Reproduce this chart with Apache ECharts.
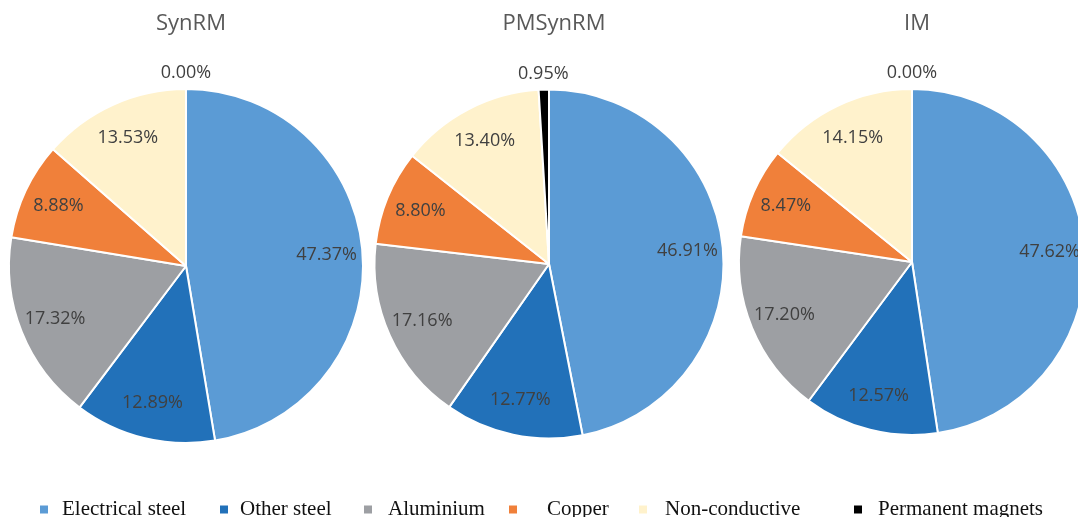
<!DOCTYPE html>
<html>
<head>
<meta charset="utf-8">
<script src="https://cdn.jsdelivr.net/npm/echarts@6/dist/echarts.min.js"></script>
<style>
html,body{margin:0;padding:0;background:#fff;}
#chart{width:1078px;height:517px;}
</style>
</head>
<body>
<div id="chart"></div>
<script>
const categories = ['Electrical steel','Other steel','Aluminium','Copper','Non-conductive','Permanent magnets'];
const motors = ['SynRM','PMSynRM','IM'];
const synrmValues = [47.37, 12.89, 17.32, 8.88, 13.53, 0.00];
const pmsynrmValues = [46.91, 12.77, 17.16, 8.80, 13.40, 0.95];
const imValues = [47.62, 12.57, 17.20, 8.47, 14.15, 0.00];
const allValues = [synrmValues, pmsynrmValues, imValues];

const colors = ['#5B9BD5','#2271B9','#9D9FA3','#F0803A','#FFF2CC','#000000'];
const pieLayout = [
  {cx:186, cy:266, r:177},
  {cx:549, cy:264, r:174.5},
  {cx:912, cy:262, r:173}
];
const legendLeft = [33, 213, 357, 502, 632, 847];
const legendTextPad = [8, 6, 10, 24, 12, 10];

const chart = echarts.init(document.getElementById('chart'), null, {renderer:'canvas'});
const series = [];
const small = 'Permanent magnets';
const fmt = p => p.value.toFixed(2) + '%';
const labelFont = {fontFamily:'Open Sans', fontSize:18, color:'#404040'};

allValues.forEach((vals, i) => {
  const L = pieLayout[i];
  // visible pie
  series.push({
    type:'pie', name: motors[i] + '-pie',
    center:[L.cx, L.cy], radius:[0, L.r],
    startAngle:90, clockwise:true,
    avoidLabelOverlap:false, silent:true,
    label:{show:false}, labelLine:{show:false},
    itemStyle:{borderColor:'#fff', borderWidth:2},
    data: categories.map((c, k) => ({name:c, value:vals[k], itemStyle:{color:colors[k]}}))
  });
  // inner label ring (transparent)
  series.push({
    type:'pie', name: motors[i] + '-lab',
    center:[L.cx, L.cy], radius:[L.r*0.56, L.r],
    startAngle:90, clockwise:true,
    avoidLabelOverlap:false, silent:true,
    labelLine:{show:false},
    itemStyle:{color:'rgba(0,0,0,0)', borderWidth:0},
    label:Object.assign({show:true, position:'inside', formatter:fmt}, labelFont),
    data: categories.map((c, k) => ({name:c, value:vals[k],
      label:{show: c !== small}}))
  });
  // outer label ring for the tiny slice
  series.push({
    type:'pie', name: motors[i] + '-out',
    center:[L.cx, L.cy], radius:[L.r, L.r + 26],
    startAngle:90, clockwise:true,
    avoidLabelOverlap:false, silent:true,
    labelLine:{show:false},
    itemStyle:{color:'rgba(0,0,0,0)', borderWidth:0},
    label:Object.assign({show:true, position:'inside', formatter:fmt}, labelFont),
    data: categories.map((c, k) => ({name:c, value:vals[k],
      label:{show: c === small}}))
  });
});

const legends = categories.map((c, k) => ({
  data:[c], left:legendLeft[k], top:494, orient:'horizontal',
  icon:'rect', itemWidth:10, itemHeight:10, selectedMode:false,
  textStyle:{fontFamily:'Liberation Serif', fontSize:21, color:'#111', padding:[0,0,0,legendTextPad[k]]}
}));

const titles = motors.map((m, i) => ({
  text:m, left:pieLayout[i].cx, top:8, textAlign:'center',
  textStyle:{fontFamily:'Open Sans', fontSize:22, fontWeight:'normal', color:'#595959'}
}));

chart.setOption({
  animation:false,
  color:colors,
  title:titles,
  legend:legends,
  series:series
});
</script>
</body>
</html>
